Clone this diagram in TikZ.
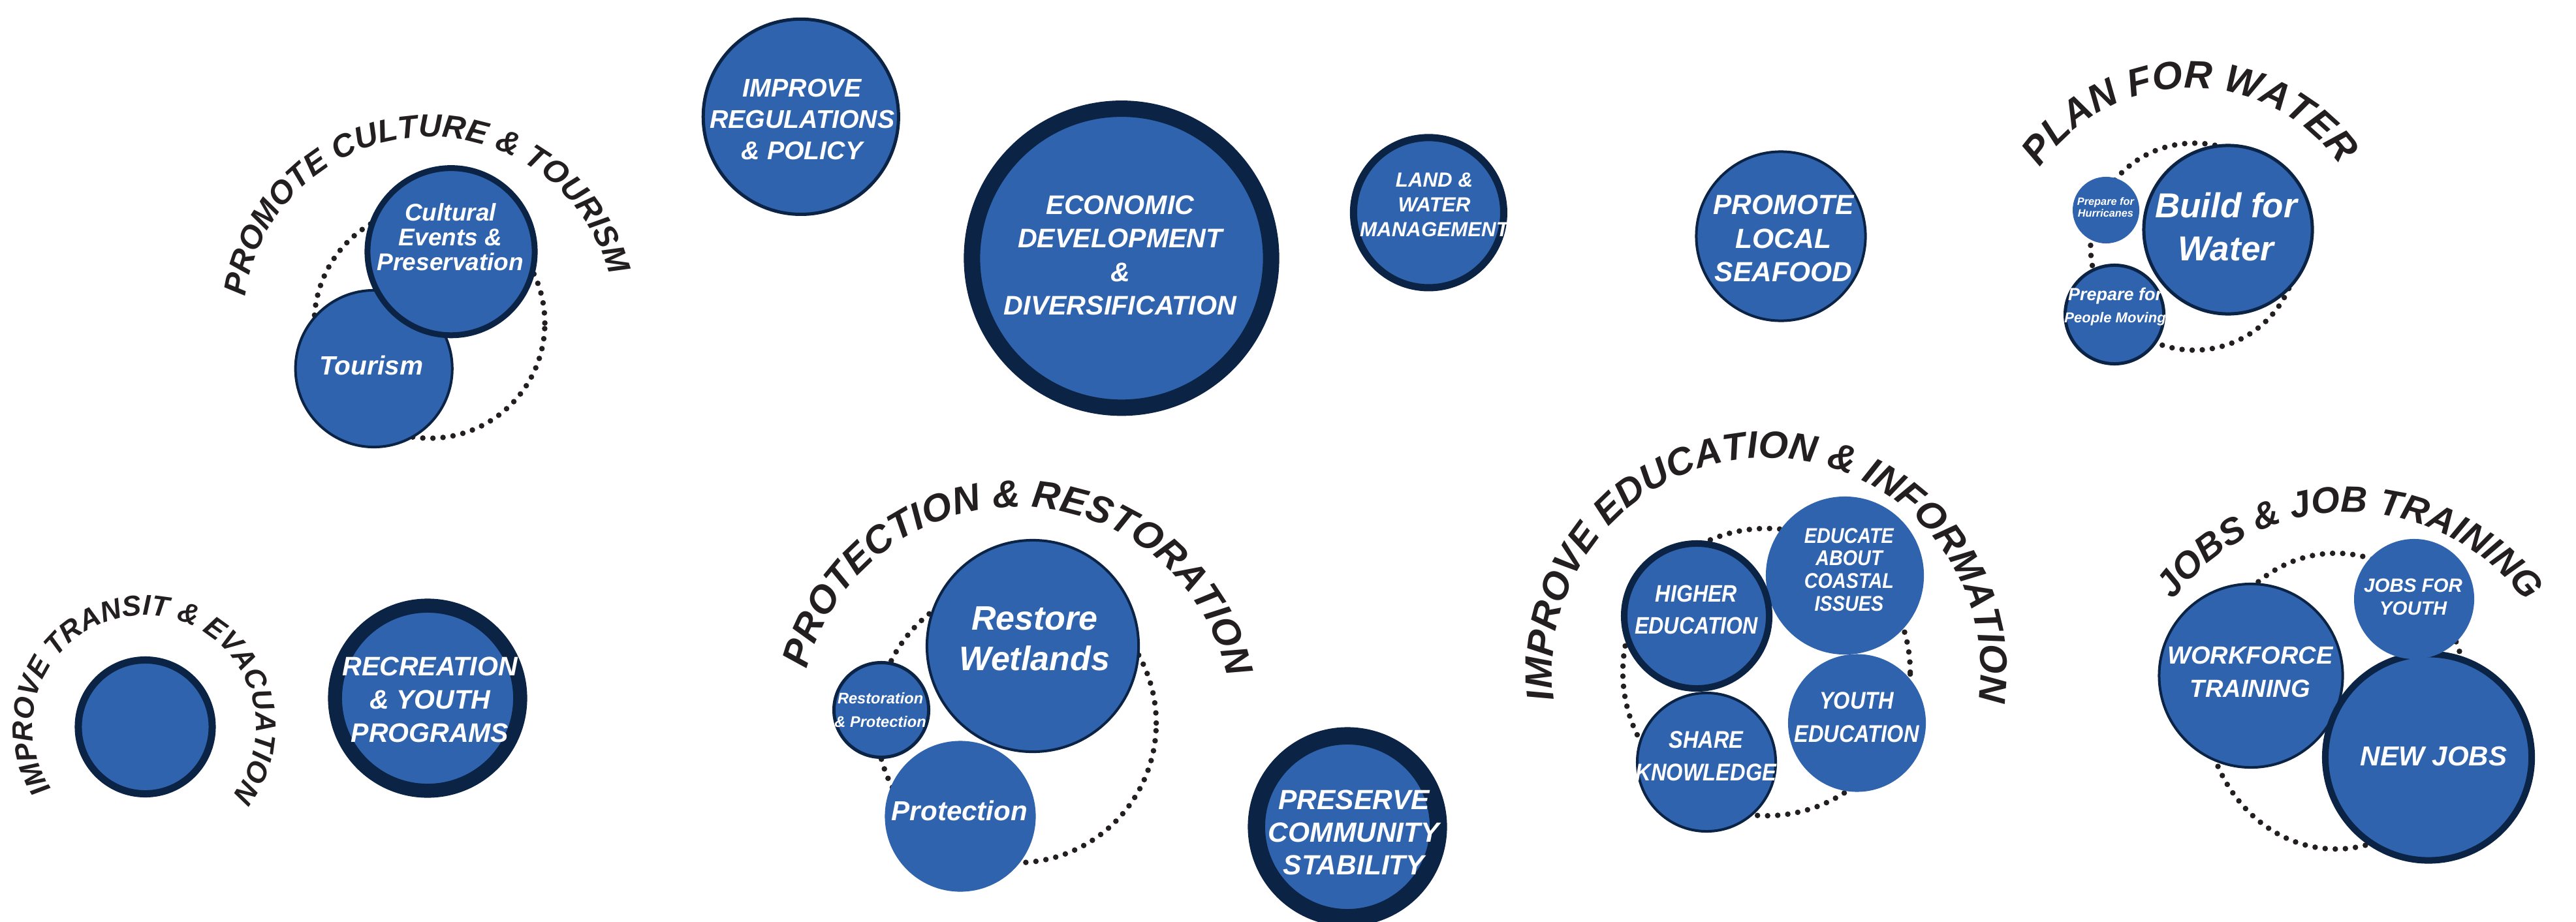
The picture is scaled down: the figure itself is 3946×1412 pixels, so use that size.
\documentclass[tikz,border=0pt]{standalone}
\usepackage{fontspec}
\setmainfont{Liberation Sans}
\newfontfamily\narrowsf{Liberation Sans}[FakeStretch=0.88]
\usetikzlibrary{shapes.geometric,decorations.text}
\definecolor{bfill}{RGB}{47,99,174}
\definecolor{navy}{RGB}{11,35,68}
\definecolor{headc}{RGB}{35,31,32}
\newcommand\wfnt[2]{\bfseries\itshape\fontsize{#1}{#2}\selectfont}
\newcommand\hfnt[1]{\bfseries\itshape\fontsize{#1}{#1}\selectfont}
\tikzset{
  bub/.style={circle, fill=bfill, draw=navy, inner sep=0pt, outer sep=0pt},
  nob/.style={circle, fill=bfill, draw=none, inner sep=0pt, outer sep=0pt},
  lbl/.style={text=white, align=center, inner sep=0pt},
  dring/.style={circle, draw=headc, line width=0.085cm, dash pattern=on 0pt off 0.155cm, line cap=round, inner sep=0pt, fill=none},
  head/.style={decorate, decoration={text along path, text align=center, text color=headc}}
}
\begin{document}
\begin{tikzpicture}[x=0.01cm, y=0.01cm]
\useasboundingbox (0,0) rectangle (3946,-1412);
\fill[white] (0,0) rectangle (3946,-1412);

% dotted rings
\node[dring, minimum size=3.53cm] (d1) at (658,-495) {};
\node[dring, minimum size=4.28cm] (d2) at (1557,-1108) {};
\node[dring, minimum size=4.40cm] (d3) at (2706,-1030) {};
\node[dring, minimum size=3.17cm] (d4) at (3361,-378) {};
\node[dring, ellipse, minimum width=4.02cm, minimum height=4.53cm] (d5) at (3578,-1074.5) {};

% headings
\coordinate (h1c) at (658,-495);
\coordinate (h2c) at (1557,-1108);
\coordinate (h3c) at (2706,-1030);
\coordinate (h4c) at (221,-1114);
\coordinate (h5c) at (3356,-414);
\coordinate (h6c) at (3598,-1120);
\path[head, decoration={text={|\hfnt{13.9}|PROMOTE CULTURE {\&} TOURISM}}]
  (h1c) ++(223.3:2.85cm) arc[start angle=223.3, end angle=-36.7, radius=2.85cm];
\path[head, decoration={text={|\hfnt{16.7}|PROTECTION {\&} RESTORATION}}]
  (h2c) ++(218.9:3.31cm) arc[start angle=218.9, end angle=-41.1, radius=3.31cm];
\path[head, decoration={text={|\hfnt{16.6}|IMPROVE EDUCATION {\&} INFORMATION}}]
  (h3c) ++(219.7:3.28cm) arc[start angle=219.7, end angle=-40.3, radius=3.28cm];
\path[head, decoration={text={|\hfnt{12.5}|IMPROVE TRANSIT {\&} EVACUATION}}]
  (h4c) ++(237.7:1.71cm) arc[start angle=237.7, end angle=-62.3, radius=1.71cm];
\path[head, decoration={text={|\hfnt{16.9}|PLAN FOR WATER}}]
  (h5c) ++(220.5:2.79cm) arc[start angle=220.5, end angle=-39.5, radius=2.79cm];
\path[head, decoration={text={|\hfnt{16}|JOBS {\&} JOB TRAINING}}]
  (h6c) ++(219.7:3.35cm) arc[start angle=219.7, end angle=-40.3, radius=3.35cm];

% circles
\node[bub, minimum size=2.40cm, line width=0.04cm] (tour) at (572.7,-565) {};
\node[bub, minimum size=2.56cm, line width=0.09cm] (cult) at (691,-385.7) {};
\node[bub, minimum size=2.99cm, line width=0.05cm] (reg) at (1226.8,-178.9) {};
\node[bub, minimum size=4.58cm, line width=0.25cm] (econ) at (1718,-395.7) {};
\node[bub, minimum size=2.30cm, line width=0.11cm] (land) at (2188.4,-325.9) {};
\node[bub, minimum size=2.59cm, line width=0.04cm] (sea) at (2728,-362) {};
\node[nob, minimum size=1.02cm] (hurr) at (3226,-322) {};
\node[bub, minimum size=1.51cm, line width=0.05cm] (move) at (3239,-482) {};
\node[bub, minimum size=2.58cm, line width=0.05cm] (build) at (3413,-352) {};
\node[bub, minimum size=2.05cm, line width=0.11cm] (trans) at (222.5,-1114) {};
\node[bub, minimum size=2.835cm, line width=0.215cm] (rec) at (655,-1070) {};
\node[bub, minimum size=1.45cm, line width=0.05cm] (rp) at (1350,-1088) {};
\node[bub, minimum size=3.24cm, line width=0.04cm] (wet) at (1582,-990) {};
\node[nob, minimum size=2.31cm] (prot) at (1471,-1251) {};
\node[bub, minimum size=2.785cm, line width=0.265cm] (pres) at (2064,-1267) {};
\node[nob, minimum size=2.42cm] (edc) at (2826,-882) {};
\node[nob, minimum size=2.11cm] (yed) at (2844.5,-1108) {};
\node[bub, minimum size=2.12cm, line width=0.04cm] (share) at (2614,-1168) {};
\node[bub, minimum size=2.22cm, line width=0.10cm] (high) at (2599,-944) {};
\node[bub, minimum size=2.81cm, line width=0.04cm] (wf) at (3448,-1035.5) {};
\node[bub, minimum size=3.16cm, line width=0.10cm] (nj) at (3720,-1160.5) {};
\node[nob, minimum size=1.84cm] (jy) at (3698,-918) {};

% labels
\node[lbl, font={\wfnt{10.53}{10.81}}] (cultT) at (690,-363.7) {Cultural\\Events \&\\Preservation};
\node[lbl, font={\wfnt{11.55}{13}}] (tourT) at (569,-560) {Tourism};
\node[lbl, font={\wfnt{11.18}{13.57}}] (regT) at (1228.6,-183) {IMPROVE\\REGULATIONS\\\& POLICY};
\node[lbl, font={\wfnt{11.72}{14.6}}] (econT) at (1716,-391.4) {ECONOMIC\\DEVELOPMENT\\\&\\DIVERSIFICATION};
\node[lbl, font={\wfnt{8.9}{10.87}}] (landT) at (2197,-314) {LAND \&\\WATER\\MANAGEMENT};
\node[lbl, font={\wfnt{12.09}{14.65}}] (seaT) at (2732,-365.5) {PROMOTE\\LOCAL\\SEAFOOD};
\node[lbl, font={\wfnt{4.64}{5.12}}] (hurrT) at (3225.4,-318) {Prepare for\\Hurricanes};
\node[lbl, font={\wfnt{7.68}{9.67}}] (moveT) at (3240,-470) {Prepare for\\{\fontsize{6.26}{9.67}\selectfont People Moving}};
\node[lbl, font={\wfnt{15.08}{18.78}}] (buildT) at (3410,-348) {Build for\\Water};
\node[lbl, font={\wfnt{11.67}{14.51}}] (recT) at (658.5,-1072) {RECREATION\\\& YOUTH\\PROGRAMS};
\node[lbl, font={\wfnt{14.8}{17.53}}] (wetT) at (1585,-979) {Restore\\Wetlands};
\node[lbl, font={\wfnt{6.71}{10.44}}] (rpT) at (1348.6,-1088) {Restoration\\\& Protection};
\node[lbl, font={\wfnt{11.98}{13}}] (protT) at (1470,-1242.6) {Protection};
\node[lbl, font={\wfnt{12.09}{14.23}}] (presT) at (2074,-1276) {PRESERVE\\COMMUNITY\\STABILITY};
\node[lbl, font={\narrowsf\wfnt{10.4}{14.11}}] (highT) at (2598.5,-934.5) {HIGHER\\EDUCATION};
\node[lbl, font={\narrowsf\wfnt{9.3}{9.87}}] (edcT) at (2832.4,-873) {EDUCATE\\ABOUT\\COASTAL\\ISSUES};
\node[lbl, font={\narrowsf\wfnt{10.53}{14.37}}] (yedT) at (2844,-1099) {YOUTH\\EDUCATION};
\node[lbl, font={\narrowsf\wfnt{10.53}{14.23}}] (shareT) at (2613.4,-1158.4) {SHARE\\KNOWLEDGE};
\node[lbl, font={\wfnt{10.81}{14.62}}] (wfT) at (3446.8,-1030) {WORKFORCE\\TRAINING};
\node[lbl, font={\wfnt{8.39}{9.84}}] (jyT) at (3696.5,-915) {JOBS FOR\\YOUTH};
\node[lbl, font={\wfnt{11.95}{13}}] (njT) at (3728,-1159.3) {NEW JOBS};
\end{tikzpicture}
\end{document}
